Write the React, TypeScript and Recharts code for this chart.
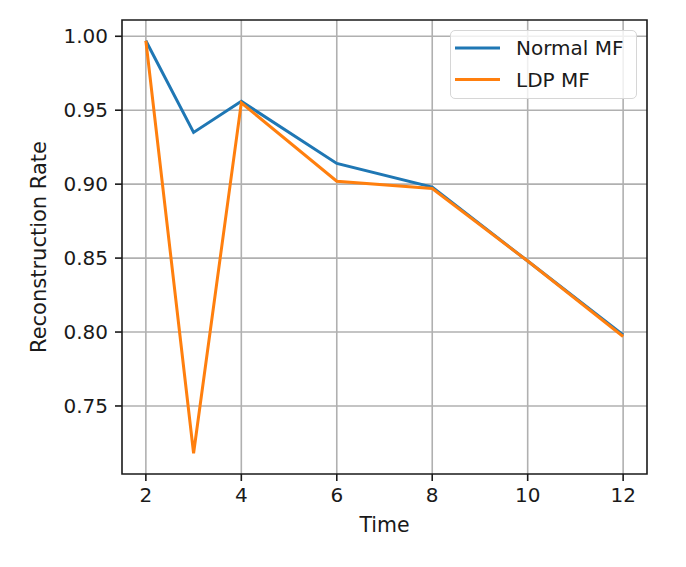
import React from 'react';
import {
  LineChart,
  Line,
  XAxis,
  YAxis,
  CartesianGrid,
  ReferenceArea,
} from 'recharts';

// Reconstruction rate over time for plain and locally-differentially-private MF
const times = [2, 3, 4, 6, 8, 10, 12];
const normalMF = [0.997, 0.935, 0.956, 0.914, 0.898, 0.848, 0.798];
const ldpMF = [0.997, 0.718, 0.955, 0.902, 0.897, 0.848, 0.797];

const seriesNames = ['Normal MF', 'LDP MF'];
const seriesKeys = ['normal', 'ldp'];

const xTicks = [2, 4, 6, 8, 10, 12];
const yTicks = [0.75, 0.8, 0.85, 0.9, 0.95, 1.0];

const X_DOMAIN: [number, number] = [1.5, 12.5];
const Y_DOMAIN: [number, number] = [0.704, 1.011];

const COLORS = ['#1f77b4', '#ff7f0e'];
const FONT = '"DejaVu Sans", Verdana, sans-serif';
const INK = '#1a1a1a';

const data = times.map((t, i) => ({
  time: t,
  normal: normalMF[i],
  ldp: ldpMF[i],
}));

const LegendBox = () => (
  <div
    style={{
      position: 'absolute',
      left: 450,
      top: 30,
      width: 187,
      height: 69,
      boxSizing: 'border-box',
      border: '1.5px solid #d6d6d6',
      borderRadius: 5,
      background: 'rgba(255,255,255,0.8)',
    }}
  >
    <svg width={187} height={69} style={{ display: 'block', marginLeft: -1.5, marginTop: -1.5 }}>
      {seriesNames.map((name, i) => (
        <g key={name}>
          <line
            x1={5}
            x2={50}
            y1={18 + i * 31.5}
            y2={18 + i * 31.5}
            stroke={COLORS[i]}
            strokeWidth={3}
          />
          <text x={66} y={25 + i * 31.5} fontFamily={FONT} fontSize={20} fill={INK}>
            {name}
          </text>
        </g>
      ))}
    </svg>
  </div>
);

export default function App() {
  return (
    <div style={{ position: 'absolute', left: 0, top: 0, width: 686, height: 567, background: '#fff' }}>
      <LineChart
        width={686}
        height={567}
        data={data}
        margin={{ top: 20, right: 39, bottom: 0, left: 0 }}
      >
        <CartesianGrid
          stroke="#b0b0b0"
          strokeWidth={1.6}
          horizontalValues={yTicks}
          verticalValues={xTicks}
        />
        <XAxis
          dataKey="time"
          type="number"
          domain={X_DOMAIN}
          ticks={xTicks}
          height={93}
          axisLine={false}
          tickSize={7}
          tickMargin={7}
          tickLine={{ stroke: INK, strokeWidth: 1.6 }}
          tick={{ fontFamily: FONT, fontSize: 20, fill: INK }}
          label={{
            content: (p: any) => {
              const vb = p.viewBox;
              return (
                <text
                  x={vb.x + vb.width / 2}
                  y={532}
                  textAnchor="middle"
                  fontFamily={FONT}
                  fontSize={20.5}
                  fill={INK}
                >
                  Time
                </text>
              );
            },
          }}
        />
        <YAxis
          type="number"
          domain={Y_DOMAIN}
          ticks={yTicks}
          width={122}
          axisLine={false}
          tickSize={7}
          tickMargin={7}
          tickLine={{ stroke: INK, strokeWidth: 1.6 }}
          tick={{ fontFamily: FONT, fontSize: 20, fill: INK }}
          tickFormatter={(v: number) => v.toFixed(2)}
          label={{
            content: (p: any) => {
              const vb = p.viewBox;
              const cy = vb.y + vb.height / 2;
              return (
                <text
                  x={46}
                  y={cy}
                  transform={`rotate(-90, 46, ${cy})`}
                  textAnchor="middle"
                  fontFamily={FONT}
                  fontSize={21}
                  fill={INK}
                >
                  Reconstruction Rate
                </text>
              );
            },
          }}
        />
        {seriesKeys.map((k, i) => (
          <Line
            key={k}
            type="linear"
            dataKey={k}
            name={seriesNames[i]}
            stroke={COLORS[i]}
            strokeWidth={3}
            dot={false}
            activeDot={false}
            isAnimationActive={false}
          />
        ))}
        <ReferenceArea
          x1={X_DOMAIN[0]}
          x2={X_DOMAIN[1]}
          y1={Y_DOMAIN[0]}
          y2={Y_DOMAIN[1]}
          fill="none"
          fillOpacity={0}
          stroke={INK}
          strokeWidth={1.6}
          ifOverflow="visible"
        />
      </LineChart>
      <LegendBox />
    </div>
  );
}
